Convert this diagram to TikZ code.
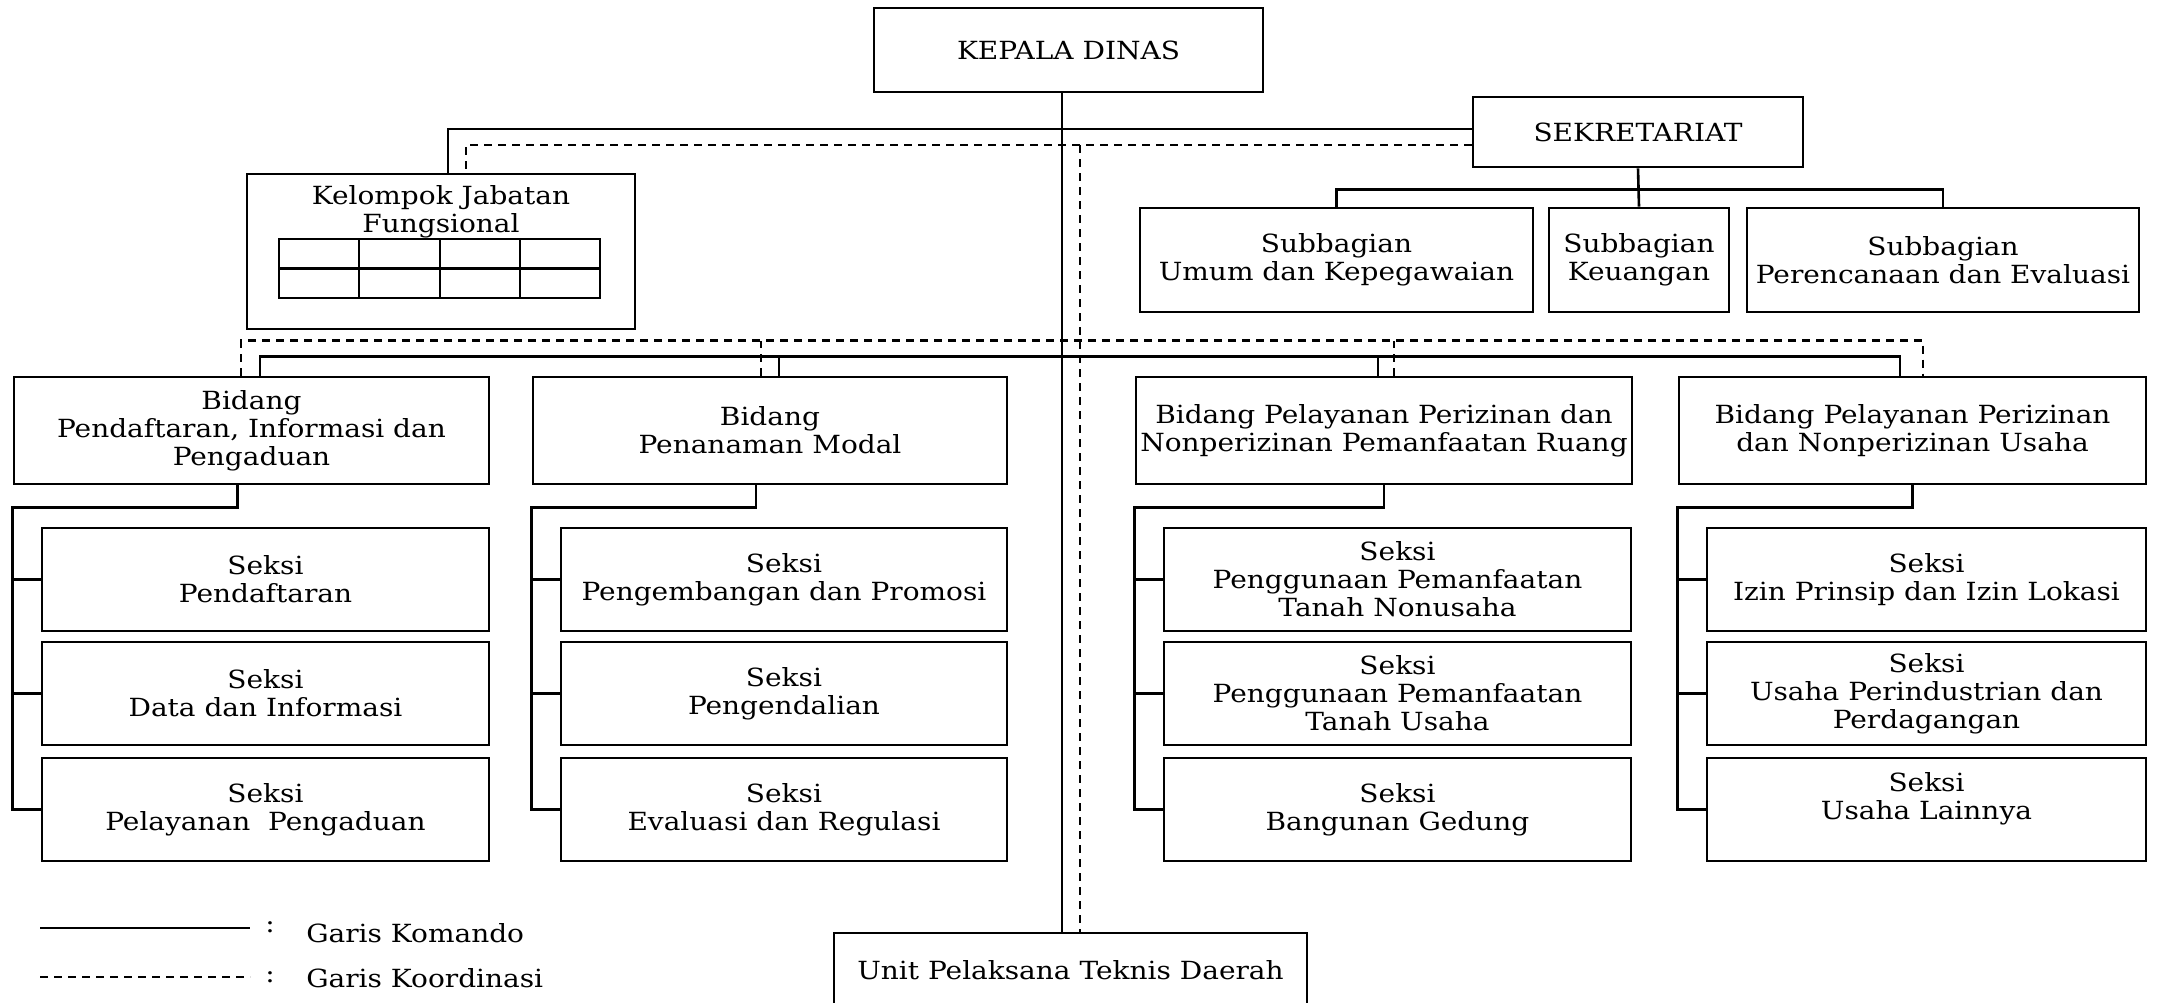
\documentclass[tikz,border=0pt]{standalone}
\usepackage{fontspec}
\setmainfont{DejaVu Serif}[FakeStretch=1.12]
\usepackage{tikz}

\begin{document}
\begin{tikzpicture}[x=0.5pt, y=-0.5pt, line width=1.3pt,
  box/.style={draw, align=center, inner sep=0pt, font=\fontsize{12.5}{14}\selectfont},
  bidang/.style={box, minimum height=53.5pt},
  seksi/.style={box, minimum height=51.5pt},
  subbag/.style={box, minimum height=52pt},
  koord/.style={dash pattern=on 4pt off 3pt}]
  \useasboundingbox (0,0) rectangle (2163,1002);

  \node[box, minimum width=194.5pt, minimum height=42pt] (KD) at (1068.5,50) {KEPALA DINAS};
  \node[box, minimum width=165pt, minimum height=35pt] (SEK) at (1638,132) {SEKRETARIAT};

  % kelompok jabatan fungsional
  \node[box, minimum width=194pt, minimum height=77.5pt] (KJF) at (441,251.5) {};
  \node[box, draw=none] (KJFT) at (441,212) {Kelompok Jabatan\\Fungsional};
  \draw (279,239) rectangle (600,298);
  \draw (279,268.5) -- (600,268.5);
  \foreach \x in {359,440,520} \draw (\x,239) -- (\x,298);

  \node[subbag, minimum width=196.5pt] (SB1) at (1336.5,260) {Subbagian\\Umum dan Kepegawaian};
  \node[subbag, minimum width=90pt] (SB2) at (1639,260) {Subbagian\\Keuangan};
  \node[subbag, minimum width=196pt] (SB3) at (1943,260) {Subbagian\\Perencanaan dan Evaluasi};

  \node[bidang, minimum width=237.5pt] (B1) at (251.5,430.5) {Bidang\\Pendaftaran, Informasi dan\\Pengaduan};
  \node[bidang, minimum width=237pt] (B2) at (770,430.5) {Bidang\\Penanaman Modal};
  \node[bidang, minimum width=248pt] (B3) at (1384,430.5) {Bidang Pelayanan Perizinan dan\\Nonperizinan Pemanfaatan Ruang};
  \node[bidang, minimum width=233.5pt] (B4) at (1912.5,430.5) {Bidang Pelayanan Perizinan\\dan Nonperizinan Usaha};

  \node[seksi, minimum width=223.5pt] (S11) at (265.5,579.5) {Seksi\\Pendaftaran};
  \node[seksi, minimum width=223.5pt] (S12) at (265.5,693.5) {Seksi\\Data dan Informasi};
  \node[seksi, minimum width=223.5pt] (S13) at (265.5,809.5) {Seksi\\Pelayanan\ \ Pengaduan};

  \node[seksi, minimum width=223pt] (S21) at (784,579.5) {Seksi\\Pengembangan dan Promosi};
  \node[seksi, minimum width=223pt] (S22) at (784,693.5) {Seksi\\Pengendalian};
  \node[seksi, minimum width=223pt] (S23) at (784,809.5) {Seksi\\Evaluasi dan Regulasi};

  \node[seksi, minimum width=233.5pt] (S31) at (1397.5,579.5) {Seksi\\Penggunaan Pemanfaatan\\Tanah Nonusaha};
  \node[seksi, minimum width=233.5pt] (S32) at (1397.5,693.5) {Seksi\\Penggunaan Pemanfaatan\\Tanah Usaha};
  \node[seksi, minimum width=233.5pt] (S33) at (1397.5,809.5) {Seksi\\Bangunan Gedung};

  \node[seksi, minimum width=219.5pt] (S41) at (1926.5,579.5) {Seksi\\Izin Prinsip dan Izin Lokasi};
  \node[seksi, minimum width=219.5pt] (S42) at (1926.5,693.5) {Seksi\\Usaha Perindustrian dan\\Perdagangan};
  \node[seksi, minimum width=219.5pt] (S43) at (1926.5,809.5) {Seksi\\Usaha Lainnya\\~};

  \node[box, minimum width=236.5pt, minimum height=37pt] (UPT) at (1070.5,970) {Unit Pelaksana Teknis Daerah};

  % garis komando
  \draw ([xshift=-3.25pt]KD.south) -- ([xshift=-3.25pt]KD.south |- UPT.north);
  \draw ([yshift=1.5pt]SEK.west) -| ([xshift=3.5pt]KJF.north);
  \draw (SEK.south) -- (SB2.north);
  \draw (SB1.north) -- ++(0,-17) -| (SB3.north);
  \draw ([xshift=4.25pt]B1.north) -- ++(0,-19) -| ([xshift=-6.25pt]B4.north);
  \draw ([xshift=4.5pt]B2.north) -- ++(0,-19);
  \draw ([xshift=-3pt]B3.north) -- ++(0,-19);

  \draw ([xshift=-7pt]B1.south) -- ++(0,22) -| (B1.west |- S13.west) -- (S13.west);
  \draw (B1.west |- S11.west) -- (S11.west);
  \draw (B1.west |- S12.west) -- (S12.west);
  \draw ([xshift=-7pt]B2.south) -- ++(0,22) -| (B2.west |- S23.west) -- (S23.west);
  \draw (B2.west |- S21.west) -- (S21.west);
  \draw (B2.west |- S22.west) -- (S22.west);
  \draw (B3.south) -- ++(0,22) -| (B3.west |- S33.west) -- (S33.west);
  \draw (B3.west |- S31.west) -- (S31.west);
  \draw (B3.west |- S32.west) -- (S32.west);
  \draw (B4.south) -- ++(0,22) -| (B4.west |- S43.west) -- (S43.west);
  \draw (B4.west |- S41.west) -- (S41.west);
  \draw (B4.west |- S42.west) -- (S42.west);

  % garis koordinasi
  \coordinate (KO) at (1080,145);
  \draw[koord] ([yshift=-6.5pt]SEK.west) -| ([xshift=12.5pt]KJF.north);
  \draw[koord] (KO) -- (KO |- UPT.north);
  \draw[koord] ([xshift=-5.25pt]B1.north) -- ++(0,-35) -| ([xshift=5.25pt]B4.north);
  \draw[koord] ([xshift=-4.5pt]B2.north) -- ++(0,-35);
  \draw[koord] ([xshift=5pt]B3.north) -- ++(0,-35);

  % keterangan
  \coordinate (L1) at (40,928);
  \coordinate (L2) at (250,928);
  \coordinate (L3) at (40,977);
  \coordinate (L4) at (250,977);
  \draw (L1) -- (L2);
  \draw[koord] (L3) -- (L4);
  \node[box, draw=none] (C1) at (270,927) {:};
  \node[box, draw=none] (C2) at (270,977) {:};
  \node[box, draw=none, anchor=west] (GK) at (305,933) {Garis Komando};
  \node[box, draw=none, anchor=west] (GKO) at (305,978) {Garis Koordinasi};
\end{tikzpicture}
\end{document}
